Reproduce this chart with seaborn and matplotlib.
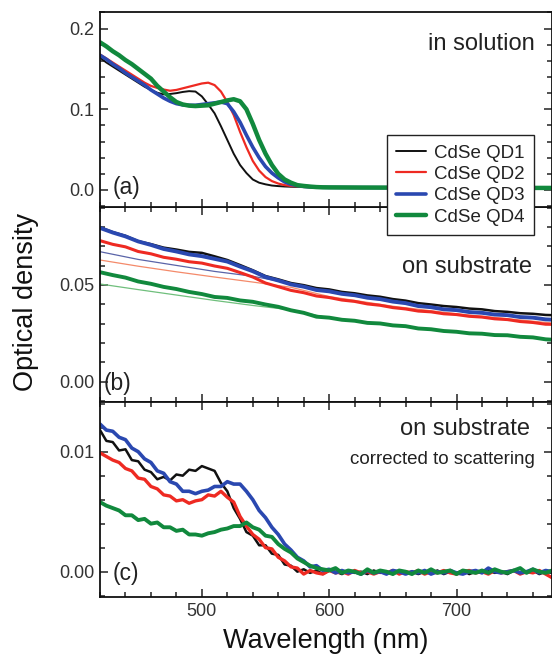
import numpy as np
import matplotlib
matplotlib.use("Agg")
import matplotlib.pyplot as plt
from matplotlib.ticker import MultipleLocator, FormatStrFormatter
import seaborn as sns

# ─── Data ─────────────────────────────────────────────────────────────────────
labels = ["CdSe QD1", "CdSe QD2", "CdSe QD3", "CdSe QD4"]
colors = ["#111111", "#ee2a22", "#2a48b0", "#11893d"]
thin_colors = ["#5a64a8", "#f48a6a", "#6fbf7c"]

# (a) in solution
wl_a = [420, 425, 430, 435, 440, 445, 450, 455, 460, 465, 470, 475, 480, 485,
        490, 495, 500, 505, 510, 515, 520, 525, 530, 535, 540, 545, 550, 555,
        560, 565, 570, 575, 580, 585, 590, 595, 600, 625, 650, 700, 750, 780]
qd1_a = [0.164, 0.158, 0.153, 0.148, 0.143, 0.138, 0.133, 0.128, 0.124, 0.1205,
         0.1185, 0.119, 0.120, 0.1215, 0.1225, 0.122, 0.116, 0.106, 0.095, 0.079,
         0.062, 0.045, 0.031, 0.021, 0.013, 0.009, 0.007, 0.0055, 0.0048, 0.0043,
         0.004, 0.0038, 0.0035, 0.0033, 0.0032, 0.003, 0.003, 0.0028, 0.0027,
         0.0025, 0.0024, 0.0023]
qd2_a = [0.168, 0.163, 0.158, 0.153, 0.148, 0.143, 0.138, 0.133, 0.129, 0.1265,
         0.1245, 0.123, 0.124, 0.126, 0.128, 0.130, 0.132, 0.133, 0.130, 0.122,
         0.109, 0.093, 0.072, 0.053, 0.036, 0.024, 0.016, 0.011, 0.008, 0.006,
         0.005, 0.0045, 0.004, 0.0037, 0.0035, 0.0033, 0.0032, 0.003, 0.0028,
         0.0026, 0.0025, 0.0024]
qd3_a = [0.167, 0.162, 0.156, 0.151, 0.145, 0.140, 0.135, 0.130, 0.124, 0.119,
         0.114, 0.110, 0.107, 0.1055, 0.105, 0.105, 0.106, 0.107, 0.108, 0.109,
         0.107, 0.097, 0.084, 0.068, 0.053, 0.040, 0.029, 0.021, 0.015, 0.010,
         0.007, 0.0055, 0.0045, 0.004, 0.0035, 0.0033, 0.0032, 0.003, 0.0029,
         0.0027, 0.0026, 0.0025]
qd4_a = [0.183, 0.178, 0.172, 0.167, 0.161, 0.156, 0.150, 0.144, 0.138, 0.129,
         0.122, 0.115, 0.109, 0.106, 0.1045, 0.104, 0.1045, 0.105, 0.107, 0.109,
         0.111, 0.1125, 0.110, 0.100, 0.082, 0.062, 0.045, 0.031, 0.020, 0.013,
         0.009, 0.006, 0.005, 0.0042, 0.0036, 0.0033, 0.0032, 0.003, 0.0029,
         0.0027, 0.0026, 0.0025]

# (b) on substrate
wl_b = [420, 430, 440, 450, 460, 470, 480, 490, 500, 510, 520, 530, 540, 550,
        560, 570, 580, 590, 600, 610, 620, 630, 640, 650, 660, 670, 680, 690,
        700, 710, 720, 730, 740, 750, 760, 770, 780]
qd1_b = [0.0798, 0.0773, 0.0754, 0.0726, 0.0711, 0.0693, 0.0683, 0.0671, 0.0666,
         0.0648, 0.0629, 0.0603, 0.0576, 0.0546, 0.0529, 0.0510, 0.0499, 0.0484,
         0.0477, 0.0464, 0.0457, 0.0446, 0.0439, 0.0427, 0.0419, 0.0406, 0.0399,
         0.0391, 0.0386, 0.0378, 0.0374, 0.0365, 0.0361, 0.0354, 0.0351, 0.0345,
         0.0343]
qd2_b = [0.0729, 0.0710, 0.0697, 0.0673, 0.0661, 0.0643, 0.0633, 0.0620, 0.0613,
         0.0598, 0.0586, 0.0564, 0.0541, 0.0510, 0.0491, 0.0472, 0.0460, 0.0443,
         0.0435, 0.0422, 0.0415, 0.0402, 0.0395, 0.0383, 0.0376, 0.0365, 0.0361,
         0.0351, 0.0347, 0.0338, 0.0334, 0.0325, 0.0321, 0.0311, 0.0306, 0.0297,
         0.0296]
qd3_b = [0.0795, 0.0771, 0.0751, 0.0725, 0.0707, 0.0686, 0.0673, 0.0658, 0.0649,
         0.0635, 0.0621, 0.0595, 0.0571, 0.0541, 0.0523, 0.0503, 0.0491, 0.0474,
         0.0467, 0.0454, 0.0447, 0.0434, 0.0427, 0.0414, 0.0406, 0.0391, 0.0385,
         0.0374, 0.0370, 0.0360, 0.0356, 0.0347, 0.0344, 0.0334, 0.0331, 0.0322,
         0.0319]
qd4_b = [0.0566, 0.0551, 0.0538, 0.0518, 0.0506, 0.0490, 0.0479, 0.0464, 0.0453,
         0.0438, 0.0433, 0.0420, 0.0413, 0.0399, 0.0387, 0.0369, 0.0356, 0.0336,
         0.0331, 0.0320, 0.0315, 0.0304, 0.0301, 0.0291, 0.0287, 0.0275, 0.0271,
         0.0262, 0.0258, 0.0250, 0.0248, 0.0241, 0.0240, 0.0232, 0.0229, 0.0219,
         0.0215]
# scattering fits (thin lines)
wl_fit = [420, 450, 480, 510, 540, 570, 600, 650, 700, 780]
fit_qd3 = [0.0672, 0.0632, 0.0601, 0.0570, 0.0545, 0.0508, 0.0463, 0.0413, 0.0367, 0.0318]
fit_qd2 = [0.0629, 0.0597, 0.0568, 0.0541, 0.0515, 0.0488, 0.0440, 0.0390, 0.0351, 0.0300]
fit_qd4 = [0.0505, 0.0476, 0.0448, 0.0420, 0.0394, 0.0371, 0.0330, 0.0293, 0.0257, 0.0215]

# (c) on substrate, corrected to scattering
wl_c = [420, 425, 430, 435, 440, 445, 450, 455, 460, 465, 470, 475, 480, 485,
        490, 495, 500, 505, 510, 515, 520, 525, 530, 535, 540, 545, 550, 555,
        560, 565, 570, 575, 580, 585, 590, 595, 600, 605, 610, 615, 620, 625,
        630, 635, 640, 645, 650, 655, 660, 665, 670, 675, 680, 685, 690, 695,
        700, 705, 710, 715, 720, 725, 730, 735, 740, 745, 750, 755, 760, 765,
        770, 775, 780]
qd1_c = [0.0118, 0.0109, 0.0108, 0.0101, 0.0102, 0.0093, 0.0092, 0.0085, 0.0083,
         0.0077, 0.0079, 0.0076, 0.0081, 0.0080, 0.0085, 0.0084, 0.0088, 0.0086,
         0.0084, 0.0074, 0.0067, 0.0053, 0.0044, 0.0033, 0.0030, 0.0022, 0.0022,
         0.0015, 0.0014, 0.0006, 0.0005, 0.0000, 0.0002, -0.0001, 0.0001, -0.0002,
         0.0001, 0.0000, -0.0002, 0.0001, -0.0001, 0.0000, -0.0002, 0.0001, -0.0001,
         0.0000, -0.0002, 0.0001, -0.0001, 0.0000, -0.0002, 0.0000, -0.0001, 0.0001,
         -0.0002, 0.0000, -0.0001, 0.0001, -0.0002, 0.0000, -0.0001, 0.0001, -0.0001,
         0.0000, -0.0002, 0.0001, -0.0001, 0.0000, 0.0001, -0.0002, 0.0000, -0.0001,
         0.0000]
qd2_c = [0.0099, 0.0096, 0.0093, 0.0091, 0.0086, 0.0084, 0.0078, 0.0077, 0.0071,
         0.0069, 0.0064, 0.0063, 0.0059, 0.0060, 0.0057, 0.0059, 0.0060, 0.0064,
         0.0063, 0.0067, 0.0062, 0.0058, 0.0046, 0.0038, 0.0031, 0.0027, 0.0020,
         0.0019, 0.0012, 0.0009, 0.0004, 0.0003, -0.0002, 0.0001, -0.0001, -0.0002,
         0.0001, -0.0001, 0.0000, -0.0002, 0.0001, -0.0001, 0.0000, -0.0002, 0.0000,
         -0.0001, 0.0001, -0.0002, 0.0000, -0.0001, 0.0001, -0.0002, 0.0000, -0.0001,
         0.0001, -0.0001, -0.0002, 0.0000, 0.0001, -0.0001, 0.0000, -0.0002, 0.0001,
         -0.0001, 0.0000, 0.0001, -0.0002, 0.0000, -0.0001, 0.0001, -0.0002, -0.0005,
         0.0000]
qd3_c = [0.0123, 0.0118, 0.0117, 0.0112, 0.0110, 0.0103, 0.0100, 0.0094, 0.0091,
         0.0084, 0.0082, 0.0075, 0.0073, 0.0067, 0.0067, 0.0065, 0.0067, 0.0068,
         0.0071, 0.0071, 0.0075, 0.0073, 0.0073, 0.0067, 0.0060, 0.0051, 0.0045,
         0.0037, 0.0031, 0.0023, 0.0018, 0.0012, 0.0009, 0.0004, 0.0005, 0.0001,
         0.0002, -0.0001, 0.0001, -0.0001, 0.0000, -0.0002, 0.0001, -0.0001, 0.0000,
         -0.0002, 0.0001, 0.0000, -0.0002, 0.0000, -0.0001, 0.0001, -0.0002, 0.0000,
         -0.0001, 0.0001, -0.0001, -0.0002, 0.0000, 0.0001, -0.0001, 0.0003, 0.0000,
         -0.0001, 0.0000, 0.0001, -0.0001, 0.0000, 0.0002, -0.0001, 0.0001, 0.0000,
         0.0000]
qd4_c = [0.0058, 0.0055, 0.0053, 0.0051, 0.0047, 0.0047, 0.0043, 0.0044, 0.0040,
         0.0041, 0.0037, 0.0037, 0.0034, 0.0035, 0.0031, 0.0031, 0.0030, 0.0032,
         0.0033, 0.0035, 0.0036, 0.0038, 0.0038, 0.0041, 0.0037, 0.0035, 0.0030,
         0.0029, 0.0023, 0.0019, 0.0016, 0.0011, 0.0008, 0.0005, 0.0003, 0.0002,
         0.0001, 0.0003, -0.0001, 0.0001, 0.0000, -0.0002, 0.0002, -0.0001, 0.0001,
         0.0000, -0.0002, 0.0001, 0.0000, -0.0002, 0.0001, -0.0001, 0.0002, -0.0001,
         0.0000, 0.0001, -0.0002, 0.0001, 0.0000, -0.0001, 0.0001, -0.0001, 0.0002,
         0.0000, -0.0001, 0.0001, 0.0003, -0.0001, 0.0002, 0.0000, -0.0001, 0.0001,
         0.0000]

# ─── Style ────────────────────────────────────────────────────────────────────
sns.set_theme(style="ticks")
plt.rcParams["font.family"] = ["Liberation Sans", "DejaVu Sans"]
plt.rcParams["axes.linewidth"] = 1.3

W, H = 552, 656
fig = plt.figure(figsize=(W / 100, H / 100), dpi=100)

def panel(top, bottom):
    return fig.add_axes([100 / W, 1 - bottom / H, 452 / W, (bottom - top) / H])

ax_a = panel(12, 207)
ax_b = panel(207, 402)
ax_c = panel(402, 597)
ax_a.set_zorder(5)

# ─── (a) ──────────────────────────────────────────────────────────────────────
lw_a = [1.4, 1.6, 2.6, 3.2]
for ys, c, lw, lab in zip([qd1_a, qd2_a, qd3_a, qd4_a], colors, lw_a, labels):
    sns.lineplot(x=wl_a, y=ys, ax=ax_a, color=c, linewidth=lw, label=lab)

# ─── (b) ──────────────────────────────────────────────────────────────────────
for ys, c in zip([fit_qd3, fit_qd2, fit_qd4], thin_colors):
    sns.lineplot(x=wl_fit, y=ys, ax=ax_b, color=c, linewidth=0.9, legend=False)
lw_b = [1.8, 2.2, 2.8, 2.8]
for ys, c, lw in zip([qd1_b, qd2_b, qd3_b, qd4_b], colors, lw_b):
    sns.lineplot(x=wl_b, y=ys, ax=ax_b, color=c, linewidth=lw, legend=False)

# ─── (c) ──────────────────────────────────────────────────────────────────────
lw_c = [1.8, 2.4, 2.6, 2.8]
for ys, c, lw in zip([qd1_c, qd2_c, qd3_c, qd4_c], colors, lw_c):
    sns.lineplot(x=wl_c, y=ys, ax=ax_c, color=c, linewidth=lw, legend=False)

# ─── Axes formatting ─────────────────────────────────────────────────────────
ylims = [(-0.0211, 0.2206), (-0.0105, 0.0903), (-0.00211, 0.01414)]
ymaj = [0.1, 0.05, 0.01]
ymin = [0.02, 0.01, 0.002]
yfmt = ["%.1f", "%.2f", "%.2f"]
tags = ["(a)", "(b)", "(c)"]
tag_pos = [(0.027, 0.10), (0.008, 0.095), (0.027, 0.118)]
for ax, yl, mj, mn, fm, tag, tp in zip([ax_a, ax_b, ax_c], ylims, ymaj, ymin, yfmt, tags, tag_pos):
    ax.set_xlim(420, 775)
    ax.set_ylim(*yl)
    ax.xaxis.set_major_locator(MultipleLocator(100))
    ax.xaxis.set_minor_locator(MultipleLocator(20))
    ax.yaxis.set_major_locator(MultipleLocator(mj))
    ax.yaxis.set_minor_locator(MultipleLocator(mn))
    ax.yaxis.set_major_formatter(FormatStrFormatter(fm))
    ax.tick_params(which="both", direction="in", top=(ax is not ax_a), right=True,
                   width=1.1, colors="#222222", labelcolor="#333333", labelsize=13)
    ax.tick_params(which="major", length=6, pad=4)
    ax.tick_params(which="minor", length=3.5)
    ax.set_xlabel("")
    ax.set_ylabel("")
    if ax is not ax_c:
        ax.tick_params(axis="x", labelbottom=False)
    for s in ax.spines.values():
        s.set_color("#111111")
    ax.text(tp[0], tp[1], tag, transform=ax.transAxes, fontsize=16.5,
            ha="left", va="center", color="#222222")

ax_a.text(535 / W, 1 - 50 / H, "in solution", transform=fig.transFigure,
          fontsize=17, ha="right", va="baseline", color="#222222")
ax_b.text(532 / W, 1 - 273 / H, "on substrate", transform=fig.transFigure,
          fontsize=17, ha="right", va="baseline", color="#222222")
ax_c.text(530 / W, 1 - 435 / H, "on substrate", transform=fig.transFigure,
          fontsize=17, ha="right", va="baseline", color="#222222")
ax_c.text(535 / W, 1 - 464 / H, "corrected to scattering", transform=fig.transFigure,
          fontsize=13.5, ha="right", va="baseline", color="#222222")

leg = ax_a.legend(loc="upper left", bbox_to_anchor=(0.635, 0.369), borderaxespad=0,
                  fontsize=13.5, frameon=True, fancybox=False, handlelength=1.6,
                  handletextpad=0.4, labelspacing=0.23, borderpad=0.5)
leg.get_frame().set_edgecolor("#222222")
leg.get_frame().set_linewidth(1.0)
leg.get_frame().set_alpha(1)
for t in leg.get_texts():
    t.set_color("#222222")

fig.text(326 / W, 1 - 641 / H, "Wavelength (nm)", fontsize=19.5, ha="center",
         va="center", color="#111111")
fig.text(26 / W, 1 - 302 / H, "Optical density", fontsize=19.5, ha="center",
         va="center", rotation=90, color="#111111")

plt.savefig("out.png", dpi=100)
